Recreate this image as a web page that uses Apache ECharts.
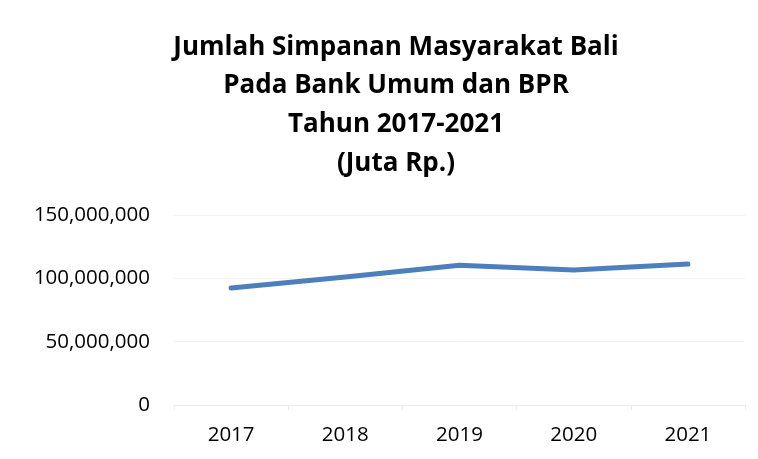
<!DOCTYPE html>
<html>
<head>
<meta charset="utf-8">
<script src="https://cdn.jsdelivr.net/npm/echarts@6/dist/echarts.min.js"></script>
<style>
  html, body { margin: 0; padding: 0; background: #fff; }
</style>
</head>
<body>
<div id="chart" style="width: 758px; height: 459px"></div>
<script>
// data
var years = ["2017", "2018", "2019", "2020", "2021"];
var simpanan = [92300000, 101000000, 110400000, 106600000, 111300000];
var titleLines = ["Jumlah Simpanan Masyarakat Bali", "Pada Bank Umum dan BPR", "Tahun 2017-2021", "(Juta Rp.)"];

var myChart = echarts.init(document.getElementById("chart"));
var option = {
  backgroundColor: "#fff",
  animation: false,
  title: {
    text: titleLines.join("\n"),
    left: 391,
    textAlign: "center",
    top: 23,
    textStyle: {
      fontFamily: "Open Sans",
      fontWeight: "bold",
      fontSize: 26,
      lineHeight: 38.7,
      color: "#000"
    }
  },
  grid: {
    left: 174,
    right: 13,
    top: 215,
    bottom: 54
  },
  xAxis: {
    type: "category",
    data: years,
    axisLine: { lineStyle: { color: "#ececec", width: 1 } },
    axisTick: { show: true, length: 5, lineStyle: { color: "#ececec" } },
    axisLabel: {
      margin: 20,
      fontFamily: "Open Sans",
      fontSize: 20.5,
      color: "#000"
    }
  },
  yAxis: {
    type: "value",
    min: 0,
    max: 150000000,
    interval: 50000000,
    axisLine: { show: false },
    axisTick: { show: false },
    splitLine: { lineStyle: { color: "#f2f2f2", width: 1 } },
    axisLabel: {
      margin: 24,
      fontFamily: "Open Sans",
      fontSize: 20.5,
      color: "#000",
      formatter: function (v) {
        return v.toLocaleString("en-US");
      }
    }
  },
  series: [
    {
      type: "line",
      data: simpanan,
      symbol: "none",
      lineStyle: { color: "#4e7fbd", width: 5, cap: "round", join: "round" }
    }
  ]
};
myChart.setOption(option);
</script>
</body>
</html>
